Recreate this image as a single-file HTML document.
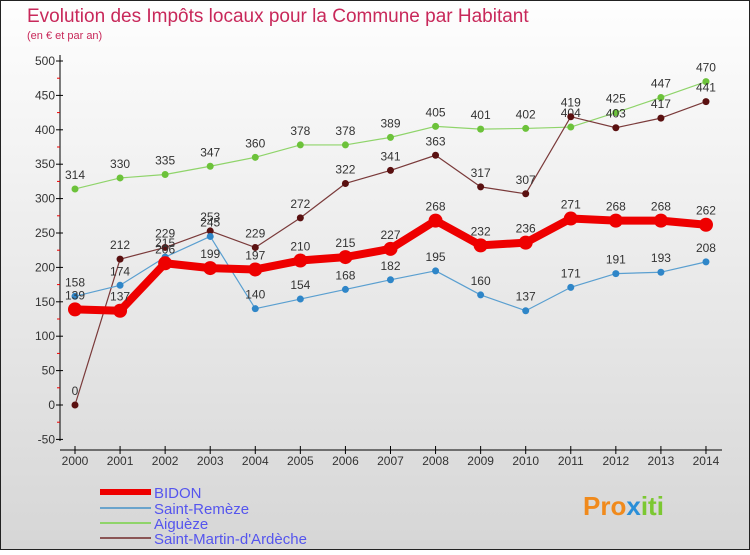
<!DOCTYPE html>
<html><head><meta charset="utf-8"><style>
body{margin:0;width:750px;height:550px;overflow:hidden;font-family:"Liberation Sans",sans-serif}
svg text{font-family:"Liberation Sans",sans-serif}
</style></head><body>
<svg id="c" width="750" height="550">
<defs><linearGradient id="bg" x1="0" y1="0" x2="0" y2="1"><stop offset="0" stop-color="#fefefe"/><stop offset="1" stop-color="#d6d6d6"/></linearGradient></defs>
<rect x="0.5" y="0.5" width="749" height="549" fill="url(#bg)" stroke="#222"/>
<text x="27" y="22" font-size="19" fill="#c8285a">Evolution des Impôts locaux pour la Commune par Habitant</text>
<text x="27" y="39" font-size="11" fill="#c8285a">(en € et par an)</text>
<g id="axes"></g><g id="series"></g><g id="legend"></g>
<text x="583" y="515" font-size="26" font-weight="bold" fill="#f08a1c">Pro<tspan fill="#2a8fd8">x</tspan><tspan fill="#7cc832">iti</tspan></text>
</svg>
<script>
const years=[2000,2001,2002,2003,2004,2005,2006,2007,2008,2009,2010,2011,2012,2013,2014];
const yTicks=[-50,0,50,100,150,200,250,300,350,400,450,500];
const bidon=[139,137,206,199,197,210,215,227,268,232,236,271,268,268,262];
const remeze=[158,174,215,245,140,154,168,182,195,160,137,171,191,193,208];
const aigueze=[314,330,335,347,360,378,378,389,405,401,402,404,425,447,470];
const martin=[0,212,229,253,229,272,322,341,363,317,307,419,403,417,441];
const NS="http://www.w3.org/2000/svg";
const X=i=>75+i*45.07;
const Y=v=>405-v*0.688;
function mk(p,t,a){const e=document.createElementNS(NS,t);for(const k in a)e.setAttribute(k,a[k]);p.appendChild(e);return e;}
const ax=document.getElementById('axes');
let l=mk(ax,'line',{x1:60,y1:55,x2:60,y2:441,stroke:'#000','stroke-width':1});


l=mk(ax,'line',{x1:60,y1:450,x2:722,y2:450,stroke:'#000','stroke-width':1});


yTicks.forEach(v=>{
 mk(ax,'line',{x1:56,y1:Y(v),x2:63,y2:Y(v),stroke:'#000'});
 const t=mk(ax,'text',{x:55,y:Y(v)+4,'font-size':12,'text-anchor':'end',fill:'#333'});t.textContent=v;
 
 
 if(v<500)mk(ax,'line',{x1:57,y1:Y(v+25),x2:60,y2:Y(v+25),stroke:'#e00'});
});
years.forEach((y,i)=>{
 mk(ax,'line',{x1:X(i),y1:446,x2:X(i),y2:454,stroke:'#000'});
 const t=mk(ax,'text',{x:X(i),y:465,'font-size':12,'text-anchor':'middle',fill:'#333'});t.textContent=y;
 
 
});
const sg=document.getElementById('series');
function draw(data,name,color,dot,w,r){
 const g=mk(sg,'g',{});
 
 
 const p=mk(g,'polyline',{points:data.map((v,i)=>X(i)+','+Y(v)).join(' '),fill:'none',stroke:color,'stroke-width':w,'stroke-linejoin':'round'});
 
 
 data.forEach((v,i)=>{
  const c=mk(g,'circle',{cx:X(i),cy:Y(v),r:r,fill:dot});
  
  
  const t=mk(g,'text',{x:X(i),y:Y(v)-10,'font-size':12,'text-anchor':'middle',fill:'#333'});t.textContent=v;
  
  
 });
}
draw(aigueze,'aigueze','#8fd46a','#6cc23a',1.2,3.5);
draw(martin,'saint-martin','#7a3a3a','#5a1010',1.2,3.5);
draw(remeze,'saint-remeze','#5a9fd0','#2f86c8',1.2,3.5);
draw(bidon,'bidon','#ee0000','#ee0000',8,7);
const lg=document.getElementById('legend');
[['BIDON','#ee0000',6,492],['Saint-Remèze','#6aa4cc',2,508],['Aiguèze','#8fd46a',2,523],['Saint-Martin-d\'Ardèche','#8a5555',2,538]].forEach(([n,c,w,y])=>{
 const g=mk(lg,'g',{});
 
 
 mk(g,'line',{x1:100,y1:y,x2:151,y2:y,stroke:c,'stroke-width':w});
 const t=mk(g,'text',{x:154,y:y+6,'font-size':15,fill:'#5555ee'});t.textContent=n;
});
</script>
</body></html>
